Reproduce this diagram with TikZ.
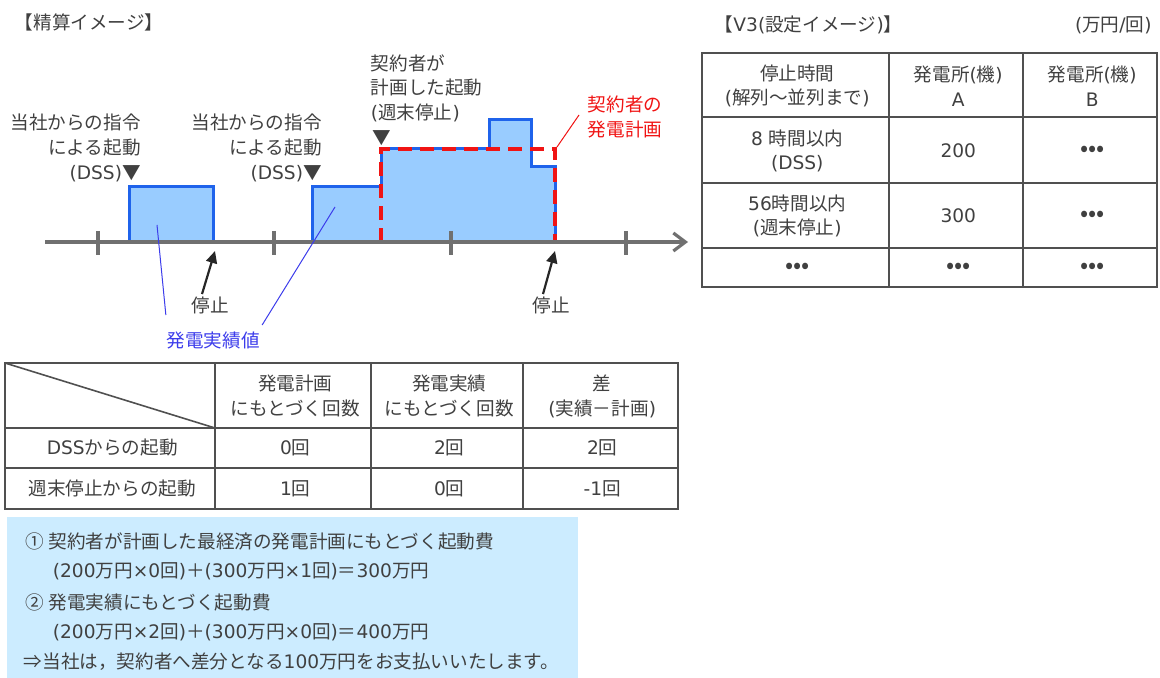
\documentclass[tikz,border=0pt]{standalone}
\usepackage{fontspec}
\setmainfont{Noto Sans CJK JP}
\newfontfamily\latfont{DejaVu Sans}
\newcommand{\lat}[1]{{\latfont #1}}
\newcommand{\dotsmark}[0]{{\fontsize{12}{12}\selectfont •••}}
\usetikzlibrary{arrows.meta}

\definecolor{textgray}{RGB}{64,64,64}
\definecolor{linegray}{RGB}{80,80,80}
\definecolor{axisgray}{RGB}{112,112,112}
\definecolor{actualfill}{RGB}{153,204,255}
\definecolor{actualline}{RGB}{31,99,235}
\definecolor{actualtext}{RGB}{60,60,235}
\definecolor{planred}{RGB}{240,20,20}
\definecolor{infofill}{RGB}{204,236,255}

\begin{document}
\begin{tikzpicture}[x=0.5pt,y=-0.5pt]
  \newcommand{\Yaxis}[0]{ 242 }
  \newcommand{\Yblock}[0]{ 187 }
  \newcommand{\Yplan}[0]{ 149 }
  \newcommand{\Ypeak}[0]{ 120 }
  \newcommand{\Ystep}[0]{ 167 }
  \newcommand{\basefont}[0]{ \fontsize{9.3}{12.4}\selectfont }

  \tikzstyle{txt}=[font=\basefont, text=textgray, inner sep=1pt]
  \tikzstyle{cell}=[txt, align=center, anchor=center]
  \tikzstyle{grid}=[draw=linegray, line width=0.8pt]
  \tikzstyle{axis}=[draw=axisgray, line width=2pt, -{Straight Barb[length=6pt,width=9pt,line width=1.6pt]}]
  \tikzstyle{tick}=[draw=axisgray, line width=2pt]
  \tikzstyle{actual}=[fill=actualfill, draw=actualline, line width=1.5pt]
  \tikzstyle{plan}=[draw=planred, line width=1.8pt, dash pattern=on 7pt off 4pt]
  \tikzstyle{stoparrow}=[draw=black!85, line width=1.1pt, -{Triangle[length=6pt,width=5.5pt]}]
  \tikzstyle{leader}=[line width=0.5pt]

  \useasboundingbox (0,0) rectangle (1160,678);

  % titles
  \node[txt, anchor=west] (title) at (8,22) {【精算イメージ】};
  \node[txt, anchor=west] (v3 title) at (708,25) {【\lat{V3(}設定イメージ\lat{)}】};
  \node[txt, anchor=east] (v3 unit) at (1154,25) {\lat{(}万円\lat{/}回\lat{)}};

  % generation blocks
  \fill[actualfill] (129,\Yaxis) rectangle (213,\Yblock);
  \draw[actual, fill=none] (129,\Yaxis) -- (129,\Yblock) -- (213,\Yblock) -- (213,\Yaxis);
  \fill[actualfill] (312,\Yaxis) -- (312,\Yblock) -- (381,\Yblock) -- (381,\Yplan)
    -- (489,\Yplan) -- (489,\Ypeak) -- (531,\Ypeak) -- (531,\Ystep) -- (555,\Ystep) -- (555,\Yaxis) -- cycle;
  \draw[actual, fill=none] (312,\Yaxis) -- (312,\Yblock) -- (381,\Yblock) -- (381,\Yplan)
    -- (489,\Yplan) -- (489,\Ypeak) -- (531,\Ypeak) -- (531,\Ystep) -- (555,\Ystep) -- (555,\Yaxis);

  % contractor plan
  \draw[plan] (381,\Yaxis) -- (381,\Yplan) -- (555,\Yplan) -- (555,\Yaxis);

  % time axis
  \coordinate (axis start) at (45,\Yaxis);
  \coordinate (axis end) at (688,\Yaxis);
  \draw[axis] (axis start) -- (axis end);
  \foreach \x in {98,274,451,626}
    \draw[tick] (\x,231) -- (\x,255);

  % start labels
  \node[txt, anchor=east, align=right] (dss one) at (143,148) {当社からの指令\\による起動\\\lat{(DSS)}▼};
  \node[txt, anchor=east, align=right] (dss two) at (324,148) {当社からの指令\\による起動\\\lat{(DSS)}▼};
  \node[txt, anchor=west, align=left] (weekend) at (364,100) {契約者が\\計画した起動\\\lat{(}週末停止\lat{)}\\\hspace{1pt}▼};

  % plan label
  \node[txt, anchor=west, align=left, text=planred] (plan label) at (581,117) {契約者の\\発電計画};
  \coordinate (plan corner) at (557,147);
  \draw[leader, planred] ([xshift=-1pt,yshift=1pt]plan label.west) -- (plan corner);

  % stop labels
  \node[txt] (stop one) at (208,305) {停止};
  \node[txt] (stop two) at (549,305) {停止};
  \coordinate (stop one end) at (215,251);
  \coordinate (stop two end) at (555,251);
  \draw[stoparrow] ([xshift=-3pt]stop one.north) -- (stop one end);
  \draw[stoparrow] ([xshift=-3pt]stop two.north) -- (stop two end);

  % actual label
  \node[txt, text=actualtext] (actual) at (211,340) {発電実績値};
  \coordinate (actual tip one) at (157,225);
  \coordinate (actual tip two) at (335,207);
  \draw[leader, actualtext] ([xshift=3pt,yshift=7pt]actual.north west) -- (actual tip one);
  \draw[leader, actualtext] ([yshift=2pt]actual.north east) -- (actual tip two);

  % V3 table
  \draw[grid] (702,53) rectangle (1157,287);
  \foreach \y in {117,183,248}
    \draw[grid] (702,\y) -- (1157,\y);
  \foreach \x in {889,1023}
    \draw[grid] (\x,53) -- (\x,287);
  \node[cell] (v3 head stop) at (795,86) {停止時間\\\lat{(}解列～並列まで\lat{)}};
  \node[cell] (v3 head a) at (956,86) {発電所\lat{(}機\lat{)}\\\lat{A}};
  \node[cell] (v3 head b) at (1090,86) {発電所\lat{(}機\lat{)}\\\lat{B}};
  \node[cell] (v3 dss) at (795,151) {\lat{8 }時間以内\\\lat{(DSS)}};
  \node[cell] (v3 dss a) at (956,151) {\lat{200}};
  \node[cell] (v3 dss b) at (1090,151) {\dotsmark};
  \node[cell] (v3 weekend) at (795,216) {\lat{56}時間以内\\\lat{(}週末停止\lat{)}};
  \node[cell] (v3 weekend a) at (956,216) {\lat{300}};
  \node[cell] (v3 weekend b) at (1090,216) {\dotsmark};
  \node[cell] (v3 more) at (795,268) {\dotsmark};
  \node[cell] (v3 more a) at (956,268) {\dotsmark};
  \node[cell] (v3 more b) at (1090,268) {\dotsmark};

  % count table
  \draw[grid] (5,363) rectangle (678,509);
  \foreach \y in {428,468}
    \draw[grid] (5,\y) -- (678,\y);
  \foreach \x in {215,371,523}
    \draw[grid] (\x,363) -- (\x,509);
  \draw[grid] (5,363) -- (215,428);
  \node[cell] (count head plan) at (293,396) {発電計画\\にもとづく回数};
  \node[cell] (count head actual) at (447,396) {発電実績\\にもとづく回数};
  \node[cell] (count head diff) at (600,396) {差\\\lat{(}実績－計画\lat{)}};
  \node[cell] (count dss) at (110,448) {\lat{DSS}からの起動};
  \node[cell] (count dss plan) at (293,448) {\lat{0}回};
  \node[cell] (count dss actual) at (447,448) {\lat{2}回};
  \node[cell] (count dss diff) at (600,448) {\lat{2}回};
  \node[cell] (count weekend) at (110,489) {週末停止からの起動};
  \node[cell] (count weekend plan) at (293,489) {\lat{1}回};
  \node[cell] (count weekend actual) at (447,489) {\lat{0}回};
  \node[cell] (count weekend diff) at (600,489) {\lat{-1}回};

  % settlement box
  \fill[infofill] (7,517) rectangle (578,678);
  \node[txt, anchor=west] (cost one) at (19,541) {① 契約者が計画した最経済の発電計画にもとづく起動費};
  \node[txt, anchor=west] (cost one calc) at (46,571) {\lat{(200}万円\lat{×0}回\lat{)}＋\lat{(300}万円\lat{×1}回\lat{)}＝\lat{300}万円};
  \node[txt, anchor=west] (cost two) at (19,602) {② 発電実績にもとづく起動費};
  \node[txt, anchor=west] (cost two calc) at (46,632) {\lat{(200}万円\lat{×2}回\lat{)}＋\lat{(300}万円\lat{×0}回\lat{)}＝\lat{400}万円};
  \node[txt, anchor=west] (payment) at (17,662) {⇒当社は，契約者へ差分となる\lat{100}万円をお支払いいたします。};
\end{tikzpicture}
\end{document}
